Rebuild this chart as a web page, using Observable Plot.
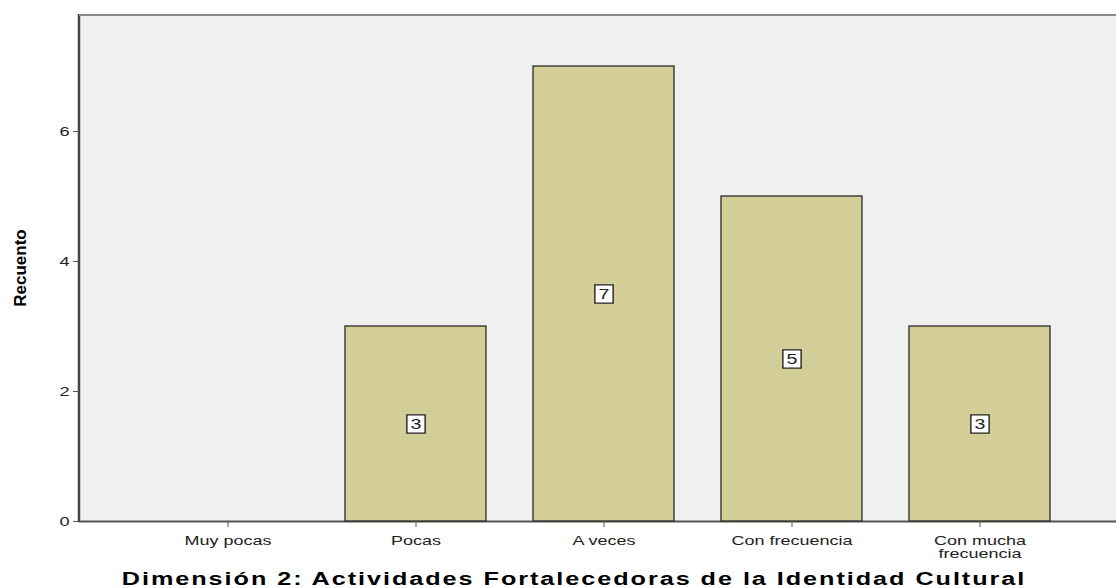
<!DOCTYPE html>
<html>
<head>
<meta charset="utf-8">
<script src="https://cdn.jsdelivr.net/npm/d3@7"></script>
<script src="https://cdn.jsdelivr.net/npm/@observablehq/plot@0.6"></script>
<style>
  body { margin: 0; background: #fff; }
  #title { font-family: "Liberation Sans", Arial, sans-serif; font-weight: bold; font-size: 18px; letter-spacing: 1.4px; text-align: center; width: 1116px; margin-top: 9px; padding-left: 32px; box-sizing: border-box; color: #000; }
  #title span { display: inline-block; transform: scaleX(1.4); transform-origin: center; }
</style>
</head>
<body>
<div id="chart"></div>
<div id="title"><span>Dimensión 2: Actividades Fortalecedoras de la Identidad Cultural</span></div>
<script>
const categories = ["Muy pocas", "Pocas", "A veces", "Con frecuencia", "Con mucha frecuencia"];
const tickLabels = ["Muy pocas", "Pocas", "A veces", "Con frecuencia", "Con mucha\nfrecuencia"];
const counts = [0, 3, 7, 5, 3];
const yTicks = [0, 2, 4, 6];

const data = categories.map((c, i) => ({cat: c, n: counts[i]}));
const barData = data.filter(d => d.n > 0);

const chart = Plot.plot({
  width: 1116,
  height: 560,
  marginLeft: 79,
  marginRight: 0,
  marginTop: 15,
  marginBottom: 39,
  style: {fontFamily: "'Liberation Sans', Arial, sans-serif", fontSize: "13px", background: "#fff", color: "#222"},
  x: {domain: categories, range: [131.75, 1074.25], paddingInner: 0.25, paddingOuter: 0.125, label: null},
  y: {domain: [0, 7.785], label: null},
  marks: [
    Plot.frame({fill: "#f0f0f0", stroke: null}),
    Plot.ruleY([0], {stroke: "#555", strokeWidth: 2}),
    Plot.barY(barData, {x: "cat", y: "n", fill: "#d3ce97", stroke: "#2a2a2a", strokeWidth: 1.3}),
    Plot.dot(barData, {x: "cat", y: d => d.n / 2, symbol: "square", r: 10.3, fill: "#fff", stroke: "#222", strokeWidth: 1.4}),
    Plot.text(barData, {x: "cat", y: d => d.n / 2, text: d => String(d.n), fontSize: 14, fill: "#222", dy: 1, className: "boxlabel"}),
    Plot.axisY({ticks: yTicks, tickSize: 6, label: null, fontSize: 13, stroke: "#555", tickPadding: 4, className: "yax"}),
    Plot.axisX({tickSize: 6, label: null, fontSize: 12, stroke: "#555", tickFormat: d => tickLabels[categories.indexOf(d)], tickPadding: 8, lineHeight: 1.12, className: "xax"})
  ]
});

document.getElementById("chart").appendChild(chart);

const svg = d3.select(chart);
// horizontally stretched tick text to match the reference's wide lettering
svg.selectAll(".yax text, .boxlabel text").each(function() {
  const t = d3.select(this);
  t.attr("transform", (t.attr("transform") || "") + " scale(1.4,1)");
});
svg.selectAll(".xax text").each(function() {
  const t = d3.select(this);
  t.attr("transform", (t.attr("transform") || "") + " scale(1.5,1)");
});
// left axis line and top border
svg.append("line").attr("x1", 79).attr("x2", 79).attr("y1", 14).attr("y2", 522).attr("stroke", "#444").attr("stroke-width", 2.5);
svg.append("line").attr("x1", 79).attr("x2", 1116).attr("y1", 15).attr("y2", 15).attr("stroke", "#888").attr("stroke-width", 2);
svg.append("text").attr("transform", "translate(26,268) rotate(-90)").attr("text-anchor", "middle")
  .attr("font-family", "'Liberation Sans Narrow', 'Arial Narrow', 'Liberation Sans', sans-serif")
  .attr("font-weight", "bold").attr("font-size", 17).attr("fill", "#000").text("Recuento");
</script>
</body>
</html>
